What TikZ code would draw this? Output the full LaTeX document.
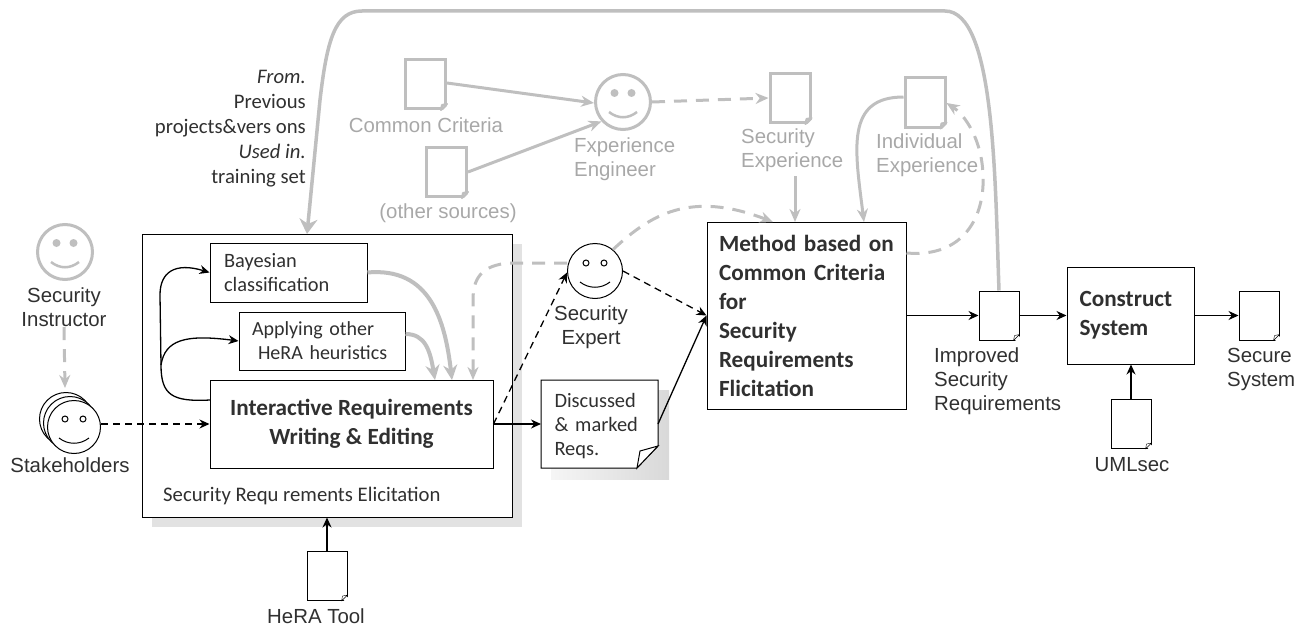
\documentclass[tikz,border=0pt]{standalone}
\usepackage{fontspec}
\setmainfont{Liberation Sans}
\newfontfamily\boxfont{Carlito}
\usetikzlibrary{arrows.meta, calc}

\definecolor{softgray}{HTML}{BFBFBF}
\definecolor{softtext}{HTML}{A8A8A8}
\definecolor{inktext}{HTML}{303030}

\tikzset{
    lbl/.style={font=\fontsize{20.4}{24}\selectfont, text=inktext, align=left, inner sep=0pt},
    graylbl/.style={lbl, text=softtext},
    boxtxt/.style={font=\boxfont\fontsize{20.7}{25}\selectfont, text=inktext, align=left, inner sep=0pt},
    procbox/.style={draw, line width=1pt, fill=white, rectangle, inner sep=0pt, text=inktext, align=left},
    boldbox/.style={procbox, font=\boxfont\bfseries\fontsize{23.2}{29}\selectfont},
    docnode/.style={draw, line width=1pt, fill=white, rectangle, minimum width=40pt, minimum height=49pt, inner sep=0pt},
    graydoc/.style={docnode, draw=softgray, line width=3pt},
    face/.style={circle, draw, line width=1pt, fill=white, minimum size=55pt, inner sep=0pt},
    grayface/.style={face, draw=softgray, line width=3pt},
    flow/.style={->, line width=1.3pt},
    dashflow/.style={->, line width=1.3pt, dash pattern=on 7pt off 5pt},
    grayflow/.style={-{Stealth[length=13pt,width=11pt]}, draw=softgray, line width=3pt},
    heavyflow/.style={-{Stealth[length=15pt,width=14pt]}, draw=softgray, line width=4pt},
    graydash/.style={grayflow, dash pattern=on 13pt off 9pt},
}

\newcommand{\grayfeatures}[1]{
    \fill[softgray] ($(#1)+(-8.5,-9)$) circle (4);
    \fill[softgray] ($(#1)+(8.5,-9)$) circle (4);
    \draw[softgray, line width=2.5pt] ($(#1)+(-14,10)$) .. controls ($(#1)+(-5,17)$) and ($(#1)+(5,17)$) .. ($(#1)+(14,10)$);
}
\newcommand{\inkfeatures}[1]{
    \draw[line width=1pt] ($(#1)+(-9,-8)$) circle (3);
    \draw[line width=1pt] ($(#1)+(9,-8)$) circle (3);
    \draw[line width=1pt] ($(#1)+(-15,11)$) .. controls ($(#1)+(-6,18)$) and ($(#1)+(6,18)$) .. ($(#1)+(15,11)$);
}
\newcommand{\docfold}[2]{
    \fill[white] ($(#1.south east)+(-6,2)$) -- ($(#1.south east)+(2,2)$) -- ($(#1.south east)+(2,-6)$) -- cycle;
    \draw[#2, line join=round] ($(#1.south east)+(-6,0)$) -- ($(#1.south east)+(0,-6)$) -- ($(#1.south east)+(-5,-5)$) -- cycle;
}

\begin{document}
\begin{tikzpicture}[>={Stealth[length=10pt,width=9pt]}, x=1pt, y=-1pt]
    \useasboundingbox (0, 0) rectangle (1302, 626);

    \fill[softgray!45] (152, 244) rectangle (522, 527);
    \shade[left color=softgray!15, right color=softgray!60] (551, 390) rectangle (669, 479);

    \node [procbox, minimum width=370pt, minimum height=283pt] (elicit) at (327, 375.5) {};
    \node [boxtxt, anchor=west] (elicitname) at (163, 496) {Security Requ rements Elicitation};
    \node [procbox, font=\boxfont\fontsize{20.4}{24}\selectfont, minimum width=157pt, minimum height=59pt, text width=129pt] (bayes) at (288.5, 272.5) {Bayesian\\classification};
    \node [procbox, font=\boxfont\fontsize{20}{24}\selectfont, minimum width=166pt, minimum height=58pt, text width=140pt] (other) at (322, 341) {Applying other\\\hspace*{6pt}HeRA heuristics};
    \node [boldbox, minimum width=283pt, minimum height=88pt, align=center] (write) at (351.5, 424) {Interactive Requirements\\Writing \& Editing};
    \node [boldbox, minimum width=199pt, minimum height=187pt, text width=175pt] (method) at (806.5, 315.5) {Method based on\\Common Criteria\\for\\Security\\Requirements\\Flicitation};
    \node [boldbox, minimum width=127pt, minimum height=97pt, text width=102pt] (construct) at (1130.5, 315.5) {Construct\\System};

    \draw [line width=1pt, fill=white] (541, 380) -- (658, 380) -- (658, 446) -- (637, 468) -- (541, 468) -- cycle;
    \draw [line width=1pt, fill=white] (637, 468) -- (640, 451) -- (658, 446) -- cycle;
    \node [font=\boxfont\fontsize{20.4}{24}\selectfont, text=inktext, align=left, inner sep=0pt, minimum width=117pt, minimum height=88pt, text width=90pt] (marked) at (599.5, 426) {Discussed\\\& marked\\Reqs.};

    \node [docnode] (hera) at (327, 576) {};
    \node [lbl] (heraname) at (316, 616) {HeRA Tool};
    \node [docnode] (improved) at (999, 315.5) {};
    \node [lbl, anchor=west] (improvedname) at (934, 381) {Improved\\Security\\Requirements};
    \node [docnode] (secure) at (1259, 315.5) {};
    \node [lbl, anchor=west] (securename) at (1227, 369) {Secure\\System};
    \node [docnode] (umlsec) at (1131, 424) {};
    \node [lbl] (umlsecname) at (1132, 465) {UMLsec};
    \foreach \docname in {hera, improved, secure, umlsec}
        \docfold{\docname}{black};

    \node [graydoc] (criteria) at (425.5, 84) {};
    \node [graylbl] (criterianame) at (426, 125) {Common Criteria};
    \node [graydoc] (sources) at (446.5, 172) {};
    \node [graylbl] (sourcesname) at (448, 213) {(other sources)};
    \node [graydoc] (secexp) at (790, 98) {};
    \node [graylbl, anchor=west] (secexpname) at (741, 150) {Security\\Experience};
    \node [graydoc] (indexp) at (925, 102.5) {};
    \node [graylbl, anchor=west] (indexpname) at (876, 155) {Individual\\Experience};
    \foreach \docname in {criteria, sources, secexp, indexp}
        \docfold{\docname}{softgray, line width=2pt};

    \node [grayface] (instructor) at (65, 252) {};
    \grayfeatures{instructor}
    \node [lbl, align=center] (instructorname) at (64, 307.5) {Security\\Instructor};
    \node [grayface] (engineer) at (623, 102) {};
    \grayfeatures{engineer}
    \node [graylbl, anchor=west] (engineername) at (574, 159) {Fxperience\\Engineer};

    \node [face, minimum size=53pt] (holder3) at (66, 419) {};
    \node [face, minimum size=53pt] (holder2) at (70, 423) {};
    \node [face, minimum size=53pt] (holder1) at (74, 427) {};
    \inkfeatures{holder1}
    \node [lbl] (holdername) at (70, 465) {Stakeholders};
    \node [face] (expert) at (595, 271) {};
    \inkfeatures{expert}
    \node [lbl, align=center] (expertname) at (591, 327.5) {Security\\Expert};

    \node [boxtxt, align=right, anchor=east] (sourcenote) at (306, 129) {\textit{From.}\\Previous\\projects\&vers ons\\\textit{Used in.}\\training set};

    \coordinate (secexpdrop) at (795, 176);
    \coordinate (forkpoint) at (161, 365);
    \coordinate (markedin) at (541, 424);
    \coordinate (markedout) at (658, 424);

    \draw [flow] (hera.north) -- (elicit.south);
    \draw [flow] (umlsec.north) -- (umlsec.north |- construct.south);
    \draw [flow] (write.east) -- (markedin);
    \draw [flow] (method.east) -- (improved.west);
    \draw [flow] (improved.east) -- (construct.west);
    \draw [flow] (construct.east) -- (secure.west);
    \draw [flow] (markedout) -- (method.west);
    \draw [dashflow] (holder1.east |- write.west) -- (write.west);
    \draw [dashflow] (write.east) -- (expert.183);
    \draw [dashflow] (expert.east) -- (method.west);

    \draw [flow] (210, 400) .. controls (172, 402) and (161, 395) .. (forkpoint) -- (160, 295) .. controls (160, 272) and (175, 262) .. (bayes.west);
    \draw [flow] (forkpoint) .. controls (165, 340) and (185, 334) .. (other.west);

    \draw [grayflow] (criteria.east |- 0, 83) -- (engineer.182);
    \draw [grayflow] (sources.east) -- (engineer.222);
    \draw [heavyflow] (bayes.east) .. controls (430, 267) and (445, 320) .. (452, 380);
    \draw [heavyflow] (other.east |- 0, 334) .. controls (425, 334) and (430, 350) .. (435, 380);
    \draw [grayflow] (secexpdrop) -- (795, 222);
    \draw [grayflow] (indexp.west |- 0, 97) .. controls (845, 97) and (855, 150) .. (864, 222);
    \draw [graydash] (instructorname.south) -- (65, 388);
    \draw [graydash] (engineer.east) -- (secexp.west);
    \draw [graydash] (expert.west |- 0, 263) -- (510, 263) .. controls (480, 265) and (473, 280) .. (473, 300) -- (473, 380);
    \draw [graydash] (expert.50) .. controls (650, 215) and (690, 190) .. (773, 222);
    \draw [graydash] (method.east |- 0, 253) .. controls (965, 258) and (985, 215) .. (983, 175) .. controls (982, 140) and (965, 115) .. (indexp.east |- 0, 103);
    \draw [grayflow, line width=3.5pt, -{Stealth[length=15pt,width=18pt]}] (improved.north) .. controls (995, 180) and (995, 11) .. (945, 11) -- (362, 11) .. controls (335, 11) and (327, 40) .. (320, 100) -- (307, 234);
\end{tikzpicture}
\end{document}
